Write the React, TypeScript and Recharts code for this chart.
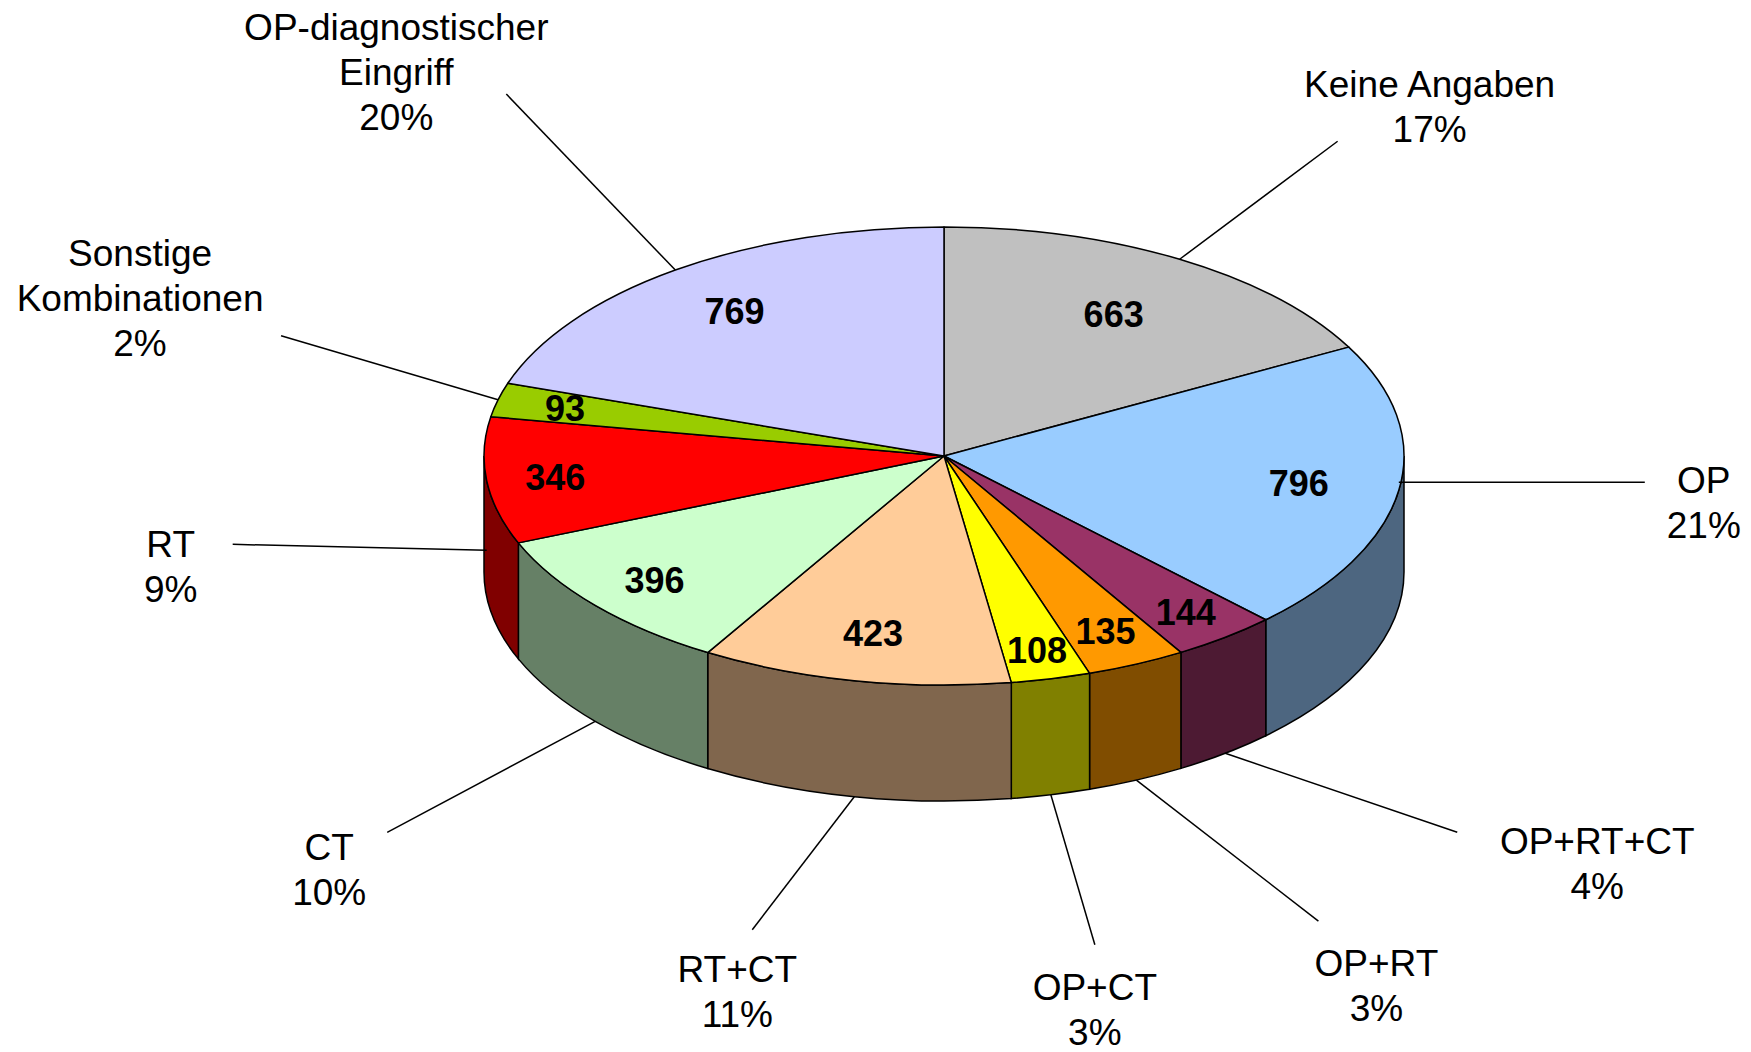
import React from 'react';
import { PieChart, Pie } from 'recharts';

const categories = [
  'Keine Angaben',
  'OP',
  'OP+RT+CT',
  'OP+RT',
  'OP+CT',
  'RT+CT',
  'CT',
  'RT',
  'Sonstige\nKombinationen',
  'OP-diagnostischer\nEingriff',
];
const counts = [663, 796, 144, 135, 108, 423, 396, 346, 93, 769];

const topColors = ['#C0C0C0', '#99CCFF', '#993366', '#FF9900', '#FFFF00', '#FFCC99', '#CCFFCC', '#FF0000', '#99CC00', '#CCCCFF'];
const sideColors = ['#606060', '#4D6680', '#4D1A33', '#804D00', '#808000', '#80664D', '#668066', '#800000', '#4D6600', '#666680'];

// how far out (fraction of the radius) the value sits on each slice
const valueReach = [0.72, 0.78, 0.86, 0.84, 0.87, 0.79, 0.83, 0.85, 0.85, 0.78];
// where the leader line leaves the pie (0 = top rim, 1 = bottom of the side wall)
const wallFrac = [0, -0.07, 1, 1, 1, 1, 1, 0.6, 0, 0];
// leader line end, relative to the rim anchor
const leaderOff: [number, number][] = [
  [158, -118], [246, 0], [232, 79], [182, 141], [44, 150],
  [-102, 133], [-208, 111], [-254, -6], [-217, -64], [-169, -176],
];
// label block centre, relative to the leader end
const textOff: [number, number][] = [
  [92, -35], [59, 20], [140, 31], [58, 64], [0, 65],
  [-15, 62], [-58, 37], [-62, 22], [-141, -38], [-110, -22],
];

const W = 1751;
const H = 1052;
const CX = 944;
const CY = 456;
const RX = 460;
const TILT = 0.498;
const DEPTH = 116;
const FONT = "Arial, 'Liberation Sans', sans-serif";

const data = categories.map((name, i) => ({ name, value: counts[i] }));

const rad = (a: number) => (a * Math.PI) / 180;

function rimPoint(cx: number, cy: number, rx: number, a: number, dy = 0): [number, number] {
  const ry = rx * TILT;
  return [cx + rx * Math.cos(rad(a)), cy - ry * Math.sin(rad(a)) + dy];
}

const renderSlice = (props: any) => {
  const { cx, cy, outerRadius, startAngle, endAngle, index } = props;
  const rx = outerRadius;
  const ry = rx * TILT;
  const [x1, y1] = rimPoint(cx, cy, rx, startAngle);
  const [x2, y2] = rimPoint(cx, cy, rx, endAngle);
  const large = Math.abs(startAngle - endAngle) > 180 ? 1 : 0;
  const face = `M${cx},${cy} L${x1},${y1} A${rx},${ry} 0 ${large} 1 ${x2},${y2} Z`;

  // visible side wall: the part of the arc lying in the front half (-180..0)
  const hi = Math.min(startAngle, 0);
  const lo = Math.max(endAngle, -180);
  let wall: string | null = null;
  if (hi > lo) {
    const [ax, ay] = rimPoint(cx, cy, rx, hi);
    const [bx, by] = rimPoint(cx, cy, rx, lo);
    wall = `M${ax},${ay} A${rx},${ry} 0 0 1 ${bx},${by} L${bx},${by + DEPTH} A${rx},${ry} 0 0 0 ${ax},${ay + DEPTH} Z`;
  }
  return (
    <g>
      {wall && <path d={wall} fill={sideColors[index]} stroke="#000" strokeWidth={1.5} />}
      <path d={face} fill={topColors[index]} stroke="#000" strokeWidth={1.5} strokeLinejoin="round" />
    </g>
  );
};

const renderLabels = (props: any) => {
  const { cx, cy, outerRadius, startAngle, endAngle, index, name, value, percent } = props;
  const mid = (startAngle + endAngle) / 2;
  const [vx, vy] = rimPoint(cx, cy, outerRadius * valueReach[index], mid);
  const [ax, ay] = rimPoint(cx, cy, outerRadius, mid, DEPTH * wallFrac[index]);
  const ex = ax + leaderOff[index][0];
  const ey = ay + leaderOff[index][1];
  const tx = ex + textOff[index][0];
  const ty = ey + textOff[index][1];
  const lines = String(name).split('\n').concat(`${Math.round(percent * 100)}%`);
  const n = lines.length;
  return (
    <g>
      <text x={vx} y={vy + 13} textAnchor="middle" fontFamily={FONT} fontSize={36} fontWeight="bold" fill="#000">
        {value}
      </text>
      <line x1={ax} y1={ay} x2={ex} y2={ey} stroke="#000" strokeWidth={1.5} />
      <text textAnchor="middle" fontFamily={FONT} fontSize={37} fill="#000">
        {lines.map((l, j) => (
          <tspan key={j} x={tx} y={ty + (j - (n - 1) / 2) * 45 + 13}>
            {l}
          </tspan>
        ))}
      </text>
    </g>
  );
};

const App: React.FC = () => {
  return (
    <div style={{ width: W, height: H, background: '#fff' }}>
      <style>{'body{margin:0;}'}</style>
      <PieChart width={W} height={H} margin={{ top: 0, right: 0, bottom: 0, left: 0 }}>
        <Pie
          data={data}
          dataKey="value"
          nameKey="name"
          cx={CX}
          cy={CY}
          outerRadius={RX}
          startAngle={90}
          endAngle={-270}
          fill="transparent"
          stroke="none"
          label={renderSlice}
          labelLine={false}
          isAnimationActive={false}
        />
        <Pie
          data={data}
          dataKey="value"
          nameKey="name"
          cx={CX}
          cy={CY}
          outerRadius={RX}
          startAngle={90}
          endAngle={-270}
          fill="transparent"
          stroke="none"
          label={renderLabels}
          labelLine={false}
          isAnimationActive={false}
        />
      </PieChart>
    </div>
  );
};

export default App;
